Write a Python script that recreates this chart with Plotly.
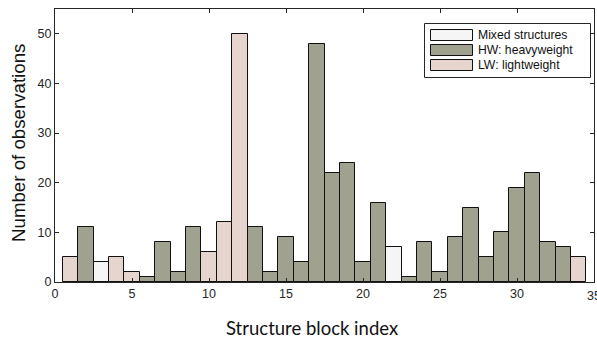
import plotly.graph_objects as go

# Structure block index (bin centre) and observation count per block
block_index = list(range(1, 35))
counts = [5, 11, 4, 5, 2, 1, 8, 2, 11, 6, 12, 50, 11, 2, 9, 4, 48, 22, 24, 4,
          16, 7, 1, 8, 2, 9, 15, 5, 10, 19, 22, 8, 7, 5]
# Structure type of each block: M = mixed, HW = heavyweight, LW = lightweight
block_type = ["LW", "HW", "M", "LW", "LW", "HW", "HW", "HW", "HW", "LW", "LW", "LW",
              "HW", "HW", "HW", "HW", "HW", "HW", "HW", "HW", "HW", "M", "HW", "HW",
              "HW", "HW", "HW", "HW", "HW", "HW", "HW", "HW", "HW", "LW"]

series = [
    ("M", "Mixed structures", "#f5f5f5"),
    ("HW", "HW: heavyweight", "#a0a18f"),
    ("LW", "LW: lightweight", "#e6d5ce"),
]

x_ticks = [0, 5, 10, 15, 20, 25, 30, 35]
y_ticks = [0, 10, 20, 30, 40, 50]

W, H = 597, 339
ML, MR, MT, MB = 55, 3, 9, 57
PW, PH = W - ML - MR, H - MT - MB


def px(x):
    return (x - ML) / PW


def py(y):
    return (H - MB - y) / PH


fig = go.Figure()
for key, name, color in series:
    xs = [b for b, t in zip(block_index, block_type) if t == key]
    ys = [c for c, t in zip(counts, block_type) if t == key]
    fig.add_trace(go.Bar(
        x=xs, y=ys, name=name, width=1, showlegend=False,
        marker=dict(color=color, line=dict(color="#111111", width=1)),
    ))

sans = "Liberation Sans, Arial, Helvetica, sans-serif"
axis_font = dict(family=sans, size=12.5, color="#262626")

# Boxed legend with wide swatches
shapes = [dict(type="rect", xref="paper", yref="paper",
               x0=px(424.5), x1=px(590.5), y0=py(77.5), y1=py(23.5),
               line=dict(color="#262626", width=1), fillcolor="white", layer="above")]
annotations = []
swatch_top = [29.5, 44.5, 59.5]
for (key, name, color), top in zip(series, swatch_top):
    shapes.append(dict(type="rect", xref="paper", yref="paper",
                       x0=px(430.5), x1=px(472.5), y0=py(top + 11), y1=py(top),
                       line=dict(color="#111111", width=1), fillcolor=color, layer="above"))
    annotations.append(dict(xref="paper", yref="paper", x=px(476), y=py(top + 5.5),
                            xanchor="left", yanchor="middle", showarrow=False,
                            text=name, font=dict(family=sans, size=12.2, color="#111111")))

# Axis titles
annotations.append(dict(xref="paper", yref="paper", x=px(312), y=py(327.5),
                        xanchor="center", yanchor="middle", showarrow=False,
                        text="Structure block index",
                        font=dict(family="Lato, Open Sans, sans-serif", size=18.5, color="#111111")))
annotations.append(dict(xref="paper", yref="paper", x=px(18), y=py(143),
                        xanchor="center", yanchor="middle", showarrow=False, textangle=-90,
                        text="Number of observations",
                        font=dict(family=sans, size=18.7, color="#111111")))
# Last tick label at the right edge
annotations.append(dict(xref="x", yref="paper", x=35, y=0, yanchor="top", yshift=-5,
                        xanchor="center", showarrow=False, text="35", font=axis_font))

fig.update_layout(
    width=W, height=H,
    margin=dict(l=ML, r=MR, t=MT, b=MB),
    paper_bgcolor="white", plot_bgcolor="white",
    barmode="overlay", bargap=0,
    shapes=shapes, annotations=annotations,
    xaxis=dict(
        range=[0, 35], tickvals=x_ticks[:-1], ticks="inside", ticklen=4,
        tickcolor="#262626", showline=True, linecolor="#262626", linewidth=1,
        mirror="ticks", showgrid=False, zeroline=False, tickfont=axis_font,
    ),
    yaxis=dict(
        range=[0, 55], tickvals=y_ticks, ticks="inside", ticklen=4,
        tickcolor="#262626", showline=True, linecolor="#262626", linewidth=1,
        mirror="ticks", showgrid=False, zeroline=False, tickfont=axis_font,
    ),
)

fig.write_html("out.html")
